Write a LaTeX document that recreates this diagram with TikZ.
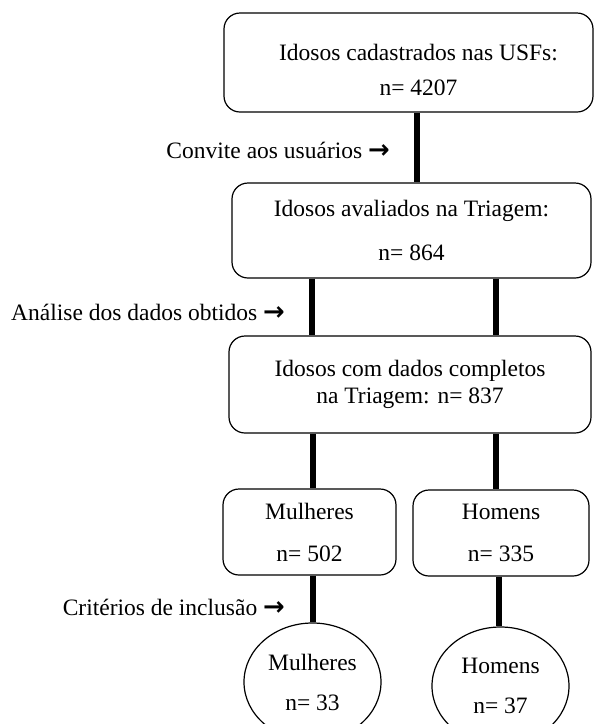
\documentclass[tikz,border=0pt]{standalone}
\usepackage{fontspec}
\setmainfont{Liberation Serif}
\newfontfamily\arrowfont{DejaVu Sans}
\usetikzlibrary{shapes.geometric}
\newcommand{\rarr}{{\arrowfont\bfseries\scalebox{1.1}{→}}}
\newcommand{\tallstrut}[1]{\rule{0pt}{#1}}
\tikzset{
  box/.style={draw, rounded corners=16pt, line width=1.2pt, align=center, inner sep=0pt},
  ell/.style={draw, ellipse, line width=1.2pt, align=center, inner sep=0pt},
  link/.style={line width=6.5pt},
  note/.style={anchor=east, inner sep=0pt}
}
\begin{document}
\begin{tikzpicture}[x=1pt, y=-1pt, font=\fontsize{23.5}{27}\selectfont]
\useasboundingbox (0,0) rectangle (594,724);
\clip (0,0) rectangle (594,724);

% boxes
\node[box, minimum width=369pt, minimum height=99pt] (b1) at (408.5,62.5)
  {\tallstrut{32pt}\hspace{20pt}Idosos cadastrados nas USFs:\\[8pt]\hspace{20pt}n= 4207};
\node[box, minimum width=359pt, minimum height=95pt] (b2) at (411.5,230.5)
  {Idosos avaliados na Triagem:\\[17pt]n= 864};
\node[box, minimum width=362pt, minimum height=97pt] (b3) at (410,384.5)
  {Idosos com dados completos\\na Triagem: n= 837\rule[-6pt]{0pt}{0pt}};
\node[box, minimum width=173pt, minimum height=86pt] (m1) at (309.5,532)
  {Mulheres\\[15pt]n= 502};
\node[box, minimum width=176pt, minimum height=86pt] (h1) at (501,533)
  {Homens\\[15pt]n= 335};
\node[ell, minimum width=137pt, minimum height=118pt] (m2) at (312.5,682)
  {Mulheres\\[13pt]n= 33};
\node[ell, minimum width=137pt, minimum height=118pt] (h2) at (500.5,686)
  {Homens\\[13pt]n= 37};

% side notes
\node[note] (l1) at (390,150) {Convite aos usuários \rarr};
\node[note] (l2) at (285,312) {Análise dos dados obtidos \rarr};
\node[note] (l3) at (285,607) {Critérios de inclusão \rarr};

% connector x positions
\coordinate (xa) at (417,0);
\coordinate (xb) at (312,0);
\coordinate (xc) at (496,0);
\coordinate (xd) at (313,0);
\coordinate (xe) at (499,0);

\draw[link] (b1.south -| xa) -- (b2.north -| xa);
\draw[link] (b2.south -| xb) -- (b3.north -| xb);
\draw[link] (b2.south -| xc) -- (b3.north -| xc);
\draw[link] (b3.south -| xd) -- (m1.north -| xd);
\draw[link] (b3.south -| xc) -- (h1.north -| xc);
\draw[link] (m1.south -| xd) -- (m2.north -| xd);
\draw[link] (h1.south -| xe) -- (h2.north -| xe);
\end{tikzpicture}
\end{document}
